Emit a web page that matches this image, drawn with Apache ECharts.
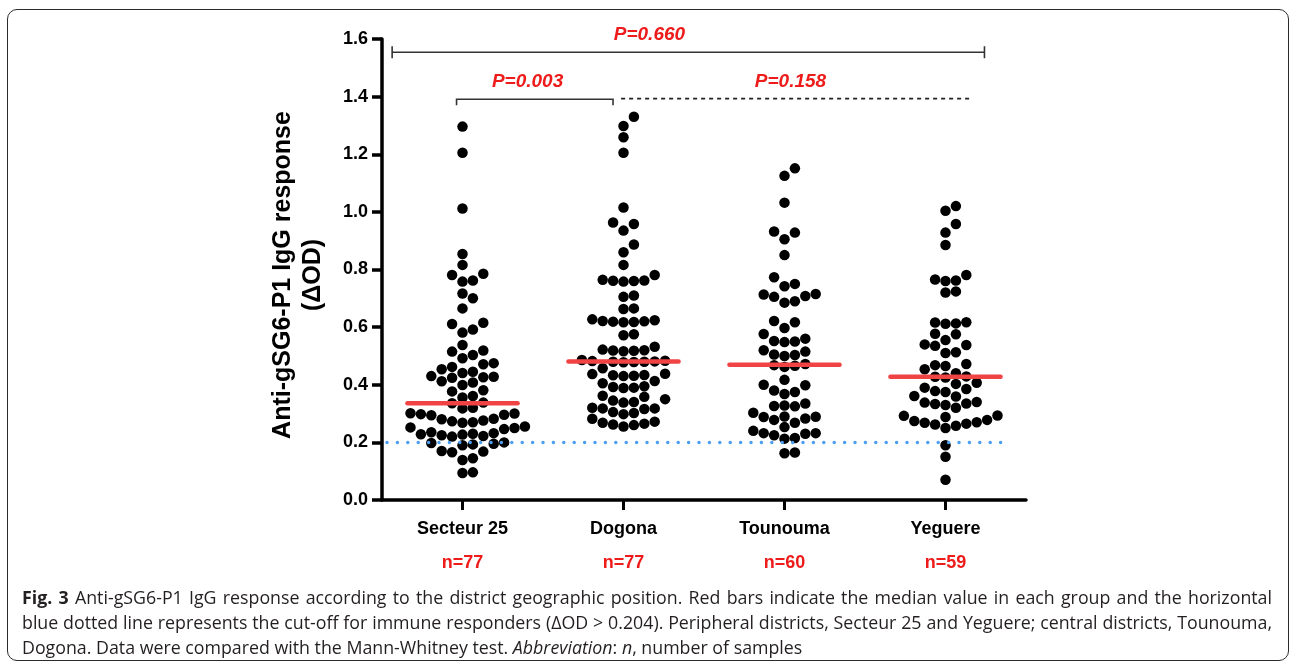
<!DOCTYPE html>
<html><head><meta charset="utf-8">
<script src="https://cdn.jsdelivr.net/npm/echarts@6/dist/echarts.min.js"></script>
<style>
html,body{margin:0;padding:0;background:#fff;}
#wrap{position:relative;width:1292px;height:668px;overflow:hidden;background:#fff;}
#chart{position:absolute;left:0;top:0;width:1292px;height:668px;}
#frame{position:absolute;left:7px;top:9px;width:1282px;height:652px;border:1.5px solid #2b2b2b;border-radius:10px;box-sizing:border-box;pointer-events:none;}
.cap{position:absolute;left:22px;width:1250px;font-family:'Open Sans',sans-serif;font-size:17.8px;color:#231f20;line-height:24px;white-space:normal;}
.just{text-align:justify;text-align-last:justify;}
</style></head>
<body><div id="wrap"><div id="chart"></div><div id="frame"></div>
<div class="cap just" style="top:585px"><b>Fig. 3</b> Anti-gSG6-P1 IgG response according to the district geographic position. Red bars indicate the median value in each group and the horizontal</div>
<div class="cap just" style="top:610px">blue dotted line represents the cut-off for immune responders (ΔOD &gt; 0.204). Peripheral districts, Secteur 25 and Yeguere; central districts, Tounouma,</div>
<div class="cap" style="top:635px">Dogona. Data were compared with the Mann-Whitney test. <i>Abbreviation</i>: <i>n</i>, number of samples</div>
</div>
<script>
const categories = ['Secteur 25', 'Dogona', 'Tounouma', 'Yeguere'];
const sampleSizes = ['n=77', 'n=77', 'n=60', 'n=59'];
const secteur25 = [1.296,1.205,1.012,0.854,0.816,0.785,0.781,0.762,0.758,0.717,
  0.700,0.665,0.615,0.611,0.592,0.581,0.538,0.519,0.515,0.503,
  0.492,0.475,0.471,0.462,0.454,0.445,0.441,0.430,0.428,0.426,
  0.424,0.412,0.408,0.399,0.381,0.377,0.361,0.356,0.338,0.336,
  0.320,0.318,0.300,0.298,0.296,0.301,0.294,0.282,0.276,0.273,
  0.280,0.270,0.268,0.255,0.250,0.246,0.252,0.235,0.230,0.228,
  0.232,0.225,0.220,0.222,0.227,0.200,0.195,0.198,0.190,0.193,
  0.170,0.168,0.166,0.145,0.139,0.096,0.094];
const dogona = [1.330,1.298,1.259,1.205,1.015,0.963,0.958,0.935,0.887,0.860,
  0.816,0.781,0.762,0.760,0.758,0.761,0.764,0.710,0.705,0.665,
  0.663,0.627,0.624,0.620,0.618,0.619,0.621,0.617,0.575,0.572,
  0.532,0.520,0.518,0.522,0.516,0.519,0.486,0.482,0.480,
  0.479,0.481,0.478,0.483,0.480,0.457,0.437,0.433,0.431,0.430,0.434,
  0.438,0.405,0.413,0.395,0.390,0.389,0.392,0.362,0.345,0.340,
  0.338,0.350,0.358,0.318,0.316,0.302,0.298,0.305,0.318,0.320,
  0.282,0.268,0.262,0.255,0.260,0.265,0.272];
const tounouma = [1.151,1.125,1.032,0.932,0.928,0.905,0.850,0.773,0.750,0.742,
  0.715,0.705,0.713,0.708,0.690,0.685,0.621,0.617,0.597,0.576,
  0.552,0.550,0.548,0.560,0.520,0.515,0.503,0.500,0.505,0.466,
  0.462,0.468,0.472,0.417,0.400,0.398,0.375,0.380,0.368,0.335,
  0.325,0.326,0.328,0.303,0.289,0.283,0.268,0.278,0.288,0.290,
  0.253,0.232,0.230,0.215,0.213,0.225,0.232,0.240,0.165,0.162];
const yeguere = [1.020,1.004,0.958,0.928,0.885,0.781,0.762,0.760,0.765,0.724,
  0.720,0.617,0.613,0.612,0.616,0.577,0.575,0.555,0.540,0.535,
  0.538,0.513,0.510,0.472,0.465,0.468,0.454,0.440,0.428,0.425,
  0.429,0.407,0.403,0.390,0.378,0.375,0.385,0.361,0.359,0.338,
  0.335,0.333,0.340,0.320,0.330,0.292,0.288,0.293,0.278,0.270,
  0.265,0.258,0.250,0.262,0.268,0.274,0.190,0.150,0.070];
const medians = [0.336, 0.481, 0.469, 0.428];
const cutoff = 0.2;
const pLabels = ['P=0.660', 'P=0.003', 'P=0.158'];
const yMin = 0, yMax = 1.6, yInterval = 0.2;

const groups = [secteur25, dogona, tounouma, yeguere];
const GRID = {left: 382, top: 39, width: 644, height: 461};
const DOT_STEP = 10.4;
const FONT = '"Liberation Sans", Arial, sans-serif';
const RED = '#ee1b1b';
const stepX = DOT_STEP / (GRID.width / categories.length);
const stepY = DOT_STEP / (GRID.height / (yMax - yMin));

function swarm(values, idx) {
  const sorted = values.slice().sort((a, b) => a - b);
  const colTop = {};
  const out = [];
  for (const v of sorted) {
    for (let k = 0; k < 60; k++) {
      const c = k === 0 ? 0 : (k % 2 === 1 ? (k + 1) / 2 : -k / 2);
      if (colTop[c] === undefined || v - colTop[c] >= stepY) {
        colTop[c] = v;
        out.push([idx + c * stepX, v]);
        break;
      }
    }
  }
  return out;
}

const chart = echarts.init(document.getElementById('chart'), null, {renderer: 'canvas'});

const scatterSeries = groups.map((g, i) => ({
  type: 'scatter', xAxisIndex: 1, yAxisIndex: 0, silent: true,
  symbol: 'circle', symbolSize: 10.5, z: 2,
  itemStyle: {color: '#000', opacity: 1},
  data: swarm(g, i)
}));

const option = {
  animation: false,
  backgroundColor: '#fff',
  grid: {left: GRID.left, top: GRID.top, width: GRID.width, height: GRID.height, containLabel: false},
  xAxis: [{
    type: 'category', data: categories, boundaryGap: true,
    axisLine: {show: true, onZero: false, lineStyle: {color: '#000', width: 3.5}},
    axisTick: {show: true, alignWithLabel: true, length: 10, lineStyle: {color: '#000', width: 3}},
    axisLabel: {
      margin: 18, interval: 0,
      formatter: (v, i) => '{c|' + v + '}\n{n|' + sampleSizes[i] + '}',
      rich: {
        c: {fontFamily: FONT, fontWeight: 'bold', fontSize: 18, color: '#000', lineHeight: 22},
        n: {fontFamily: FONT, fontWeight: 'bold', fontSize: 18, color: RED, lineHeight: 46}
      }
    },
    splitLine: {show: false}
  }, {
    type: 'value', min: -0.5, max: 3.5, show: false,
    axisLine: {onZero: false}
  }],
  yAxis: {
    type: 'value', min: yMin, max: yMax, interval: yInterval, position: 'left',
    axisLine: {show: true, onZero: false, lineStyle: {color: '#000', width: 3.5}},
    axisTick: {show: true, length: 10, lineStyle: {color: '#000', width: 3.5}},
    axisLabel: {margin: 14, fontFamily: FONT, fontWeight: 'bold', fontSize: 18, color: '#000',
      formatter: v => v.toFixed(1)},
    splitLine: {show: false}
  },
  graphic: [{
    type: 'text', x: 298, y: 275, rotation: Math.PI / 2, silent: true,
    style: {text: 'Anti-gSG6-P1 IgG response\n(ΔOD)', fill: '#000',
      font: 'bold 25px ' + FONT, fontSize: 25, fontWeight: 'bold', fontFamily: FONT,
      lineHeight: 30, align: 'center', verticalAlign: 'middle', textAlign: 'center', textVerticalAlign: 'middle'}
  }],
  series: scatterSeries.concat([
    {
      type: 'custom', xAxisIndex: 1, yAxisIndex: 0, silent: true, z: 5, clip: false,
      data: medians.map((m, i) => [i, m]),
      renderItem: (params, api) => {
        const i = api.value(0), m = api.value(1);
        const a = api.coord([i - 0.342, m]), b = api.coord([i + 0.342, m]);
        return {type: 'line', shape: {x1: a[0], y1: a[1], x2: b[0], y2: b[1]},
          style: {stroke: '#f04444', lineWidth: 4.5, lineCap: 'round'}};
      }
    },
    {
      type: 'custom', xAxisIndex: 1, yAxisIndex: 0, silent: true, z: 6, clip: false,
      data: [[0, cutoff]],
      renderItem: (params, api) => {
        const a = api.coord([-0.5, api.value(1)]), b = api.coord([3.36, api.value(1)]);
        return {type: 'line', shape: {x1: a[0] + 5, y1: a[1], x2: b[0], y2: b[1]},
          style: {stroke: '#4b9ff2', lineWidth: 3.5, lineCap: 'round', lineDash: [0, 10.4]}};
      }
    },
    {
      type: 'custom', xAxisIndex: 1, yAxisIndex: 0, silent: true, z: 4, clip: false,
      data: [[0, 0]],
      renderItem: (params, api) => {
        const t1 = api.coord([-0.437, 1.554]), t2 = api.coord([3.242, 1.554]);
        const b1 = api.coord([-0.037, 1.391]), b2 = api.coord([0.935, 1.391]);
        const d1 = api.coord([0.985, 1.393]), d2 = api.coord([3.155, 1.393]);
        const ls = {stroke: '#333', lineWidth: 1.6};
        return {type: 'group', children: [
          {type: 'line', shape: {x1: t1[0], y1: t1[1], x2: t2[0], y2: t2[1]}, style: ls},
          {type: 'line', shape: {x1: t1[0], y1: t1[1] - 6, x2: t1[0], y2: t1[1] + 6}, style: ls},
          {type: 'line', shape: {x1: t2[0], y1: t2[1] - 6, x2: t2[0], y2: t2[1] + 6}, style: ls},
          {type: 'polyline', shape: {points: [[b1[0], b1[1] + 6], [b1[0], b1[1]], [b2[0], b2[1]], [b2[0], b2[1] + 6]]}, style: Object.assign({fill: 'none'}, ls)},
          {type: 'line', shape: {x1: d1[0], y1: d1[1], x2: d2[0], y2: d2[1]}, style: {stroke: '#222', lineWidth: 1.6, lineDash: [4, 4]}}
        ]};
      }
    },
    {
      type: 'custom', xAxisIndex: 1, yAxisIndex: 0, silent: true, z: 7, clip: false,
      data: [[1.161, 1.616], [0.404, 1.453], [2.037, 1.453]],
      renderItem: (params, api) => {
        const p = api.coord([api.value(0), api.value(1)]);
        return {type: 'text', x: p[0], y: p[1],
          style: {text: pLabels[params.dataIndex], fill: RED, font: 'italic bold 19px ' + FONT,
            align: 'center', verticalAlign: 'middle', textAlign: 'center', textVerticalAlign: 'middle'}};
      }
    }
  ])
};
chart.setOption(option);
</script>
</body></html>
